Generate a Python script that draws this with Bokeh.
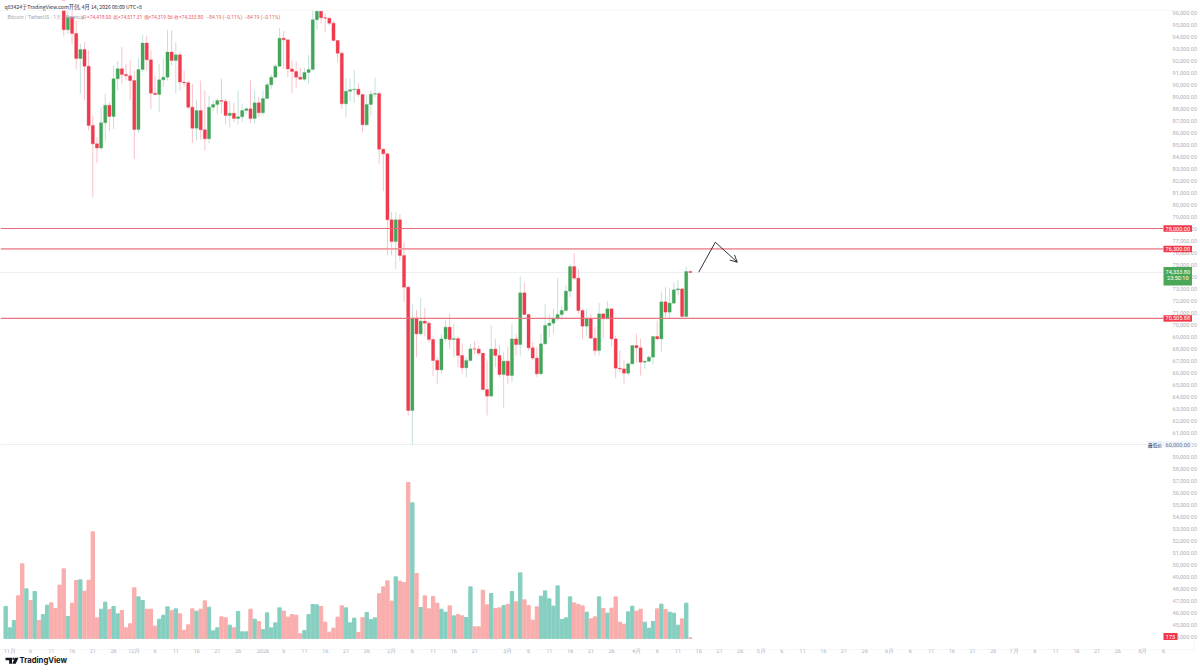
from bokeh.plotting import figure
from bokeh.models import (Range1d, LinearAxis, FixedTicker, NumeralTickFormatter, Label,
                          BoxAnnotation, PolyAnnotation, Arrow, OpenHead)
from bokeh.embed import file_html
from bokeh.resources import INLINE

# ---------- data (prices in thousands USDT; first candle = day 13 after Nov 1) ----------
first_candle_day = 13
closes_k = [94.56,95.61,94.25,92.17,92.92,91.53,86.59,85.06,84.70,86.81,88.28,87.34,90.47,91.31,90.84,90.72,90.33,86.25,91.25,93.45,
 92.06,89.28,89.17,90.39,90.61,92.70,92.00,92.47,90.20,90.15,88.11,86.36,87.83,86.22,85.47,88.11,88.33,88.67,88.60,87.42,
 87.61,87.17,87.31,87.83,87.97,87.17,88.47,87.64,88.83,89.97,90.61,91.53,93.86,93.72,91.30,91.09,90.61,90.44,91.00,91.25,
 95.39,96.10,95.56,95.53,95.11,93.67,92.61,88.39,89.44,89.56,89.61,89.17,86.64,88.33,89.19,89.25,84.61,84.22,78.72,76.92,
 78.72,75.75,73.11,62.83,70.53,69.22,70.28,70.11,68.75,67.00,66.22,68.80,69.78,68.75,68.83,67.42,66.39,67.00,67.97,67.95,
 67.61,64.58,64.03,67.95,67.42,65.83,66.94,65.75,68.80,68.33,72.64,70.83,68.06,67.20,65.89,68.39,69.92,70.11,70.47,70.83,
 71.17,72.78,74.83,73.86,71.17,69.86,70.47,68.86,67.83,70.89,70.47,71.31,68.80,66.36,66.30,65.94,66.72,68.25,68.06,66.86,
 66.94,67.28,69.00,68.80,71.89,71.03,71.78,72.89,72.97,70.67,74.418,74.334]
opens_k = [97.0] + closes_k[:-1]
highs_k = [98.0,96.6,96.5,95.33,93.4,93.53,92.84,87.42,85.6,88.11,89.22,88.53,91.58,91.95,93.11,91.72,92.0,91.17,92.2,94.14,
 94.08,92.84,90.75,91.72,92.14,94.56,94.5,93.53,92.7,91.17,90.33,90.06,88.67,90.33,89.5,89.08,88.67,88.81,90.47,88.8,
 88.67,88.5,89.5,88.4,88.1,90.33,89.5,88.94,89.5,90.2,90.84,91.72,94.72,94.45,93.72,92.0,91.95,91.4,91.4,92.44,
 96.4,97.5,97.2,95.9,95.6,95.3,93.7,92.8,90.56,90.5,91.22,90.1,89.2,89.1,89.5,90.56,89.4,84.7,84.3,79.36,
 79.36,79.2,76.86,73.2,71.67,71.2,72.22,71.39,70.3,69.0,67.3,69.2,70.33,70.89,70.06,69.0,68.39,67.3,68.39,68.6,
 68.25,67.6,67.0,69.92,68.8,68.25,67.7,68.11,70.06,69.22,74.0,73.53,70.89,68.53,68.11,69.22,71.72,70.9,71.31,73.86,
 71.58,73.25,75.0,75.95,74.64,71.3,71.31,70.89,69.78,71.78,70.9,71.94,71.3,69.08,67.83,67.0,66.9,68.3,69.22,68.8,
 67.0,67.42,69.0,70.33,72.75,73.11,73.06,73.53,73.72,73.0,74.83,74.517]
lows_k = [94.0,94.2,93.39,91.25,89.22,88.67,86.17,80.61,83.45,84.5,85.33,86.11,86.3,89.5,90.06,90.33,88.67,83.8,86.0,91.03,
 91.17,87.97,89.15,87.7,89.78,90.33,91.6,89.22,89.5,89.78,87.97,85.11,85.33,85.39,84.5,85.11,87.78,87.56,87.56,86.67,
 86.44,86.86,86.67,86.86,87.58,86.78,86.78,87.28,87.42,88.8,89.64,90.6,91.5,91.3,90.6,89.28,89.72,90.4,90.3,90.06,
 91.2,94.56,95.1,94.36,94.9,93.6,91.86,87.97,87.28,88.6,88.47,88.95,86.0,86.5,87.42,88.9,83.39,81.11,75.75,75.75,
 74.64,75.3,71.86,62.42,60.0,67.28,69.1,69.0,68.5,65.7,65.06,65.89,68.6,67.97,67.28,66.44,65.89,65.61,66.86,67.5,
 67.42,64.5,62.42,64.0,66.44,65.61,63.06,65.06,65.19,67.42,67.42,70.8,67.83,67.0,65.61,65.8,68.3,68.94,69.22,70.33,
 70.39,71.1,72.28,73.67,70.89,68.8,69.08,68.8,67.42,67.42,68.89,70.47,68.17,65.53,66.03,65.06,65.75,66.7,66.86,65.75,
 66.3,66.86,66.64,68.7,67.69,70.6,70.47,71.7,72.42,70.6,70.6,74.319]

# volume, relative units, first bar = day -1 (Oct 31)
first_volume_day = -1
volumes = [96,32,54,128,224,149,114,141,54,72,100,107,90,160,209,66,106,174,176,142,175,320,62,88,109,87,96,74,84,32,44,152,125,114,88,88,37,58,70,95,
 84,89,74,25,41,89,82,88,113,94,23,32,65,62,40,32,81,20,20,88,58,51,27,77,32,47,92,82,64,72,70,14,24,72,102,101,96,49,19,31,64,98,92,
 47,61,18,63,78,57,62,134,155,173,112,185,172,168,468,407,195,93,128,89,126,106,88,79,98,68,72,68,63,155,35,35,145,101,135,90,92,99,102,141,110,197,116,99,55,95,
 127,143,119,97,158,57,62,125,107,102,98,79,59,65,125,90,76,91,125,49,43,80,97,82,88,49,31,51,89,103,87,79,76,40,59,106,2]
early_volume_up = [1,1,1,0,0,1,0,1,0,1,1,0,0,0]

tick_days = [0,5,10,15,20,25,30,35,40,45,50,55,61,66,71,76,81,86,92,97,102,107,112,120,125,130,135,140,145,
             151,156,161,166,171,176,181,186,191,196,201,206,212,217,222,227,232,237,242,247,252,257,262,267,273,278]
tick_text = ["11月","6","11","16","21","26","12月","6","11","16","21","26","2026","6","11","16","21","26","2月","6","11","16","21",
             "3月","6","11","16","21","26","4月","6","11","16","21","26","5月","6","11","16","21","26","6月","6","11","16","21","26",
             "7月","6","11","16","21","26","8月","6"]
price_ticks = list(range(44000, 97000, 1000))

level_red = 78000
level_pink = 76300
level_low = 70505.88
last_price = 74333.80
low_price = 60000
path_days = [166.0, 170.0]
path_prices = [74358, 76858]
arrow_end_day = 175.3
arrow_end_price = 75192

RED, GREEN = "#ef3b4d", "#43a55a"
RED_WICK, GREEN_WICK = "#f8c3c8", "#c2e2da"
VRED, VGREEN = "#f9adad", "#86cfc0"
GRAY = "#aeb1ba"
FONT = "Roboto"
SIZE = "5.6px"
PANE_RIGHT_DAY = (1163 - 9.3) / 4.15
PANE_BOTTOM_PRICE = 43666.67

p = figure(width=1200, height=672, output_backend="svg", toolbar_location=None,
           x_range=Range1d(-9.3/4.15, (1200-9.3)/4.15), y_range=Range1d(41000, 97000),
           x_axis_location="below", y_axis_location=None,
           min_border=0, outline_line_color=None, background_fill_color="white", border_fill_color="white")
p.grid.visible = False
p.extra_y_ranges = {"vol": Range1d(-102, 1914)}

ax = p.xaxis[0]
ax.fixed_location = PANE_BOTTOM_PRICE
ax.ticker = FixedTicker(ticks=tick_days)
ax.major_label_overrides = {d: t for d, t in zip(tick_days, tick_text)}
ax.axis_line_color = None
ax.major_tick_line_color = None
ax.minor_tick_line_color = None
ax.major_label_text_font = FONT
ax.major_label_text_font_size = SIZE
ax.major_label_text_color = GRAY
ax.major_label_standoff = 2

yax = LinearAxis(ticker=FixedTicker(ticks=price_ticks), formatter=NumeralTickFormatter(format="0,0.00"),
                 fixed_location=PANE_RIGHT_DAY,
                 axis_line_color=None, major_tick_line_color=None, minor_tick_line_color=None,
                 major_label_text_font=FONT, major_label_text_font_size=SIZE, major_label_text_color=GRAY,
                 major_label_standoff=3)
p.add_layout(yax, "right")

# volume
vol_days = [first_volume_day + k for k in range(len(volumes))]
cand_up = [c >= o for o, c in zip(opens_k, closes_k)]
vol_up = [bool(v) for v in early_volume_up] + cand_up
vol_colors = [VGREEN if u else VRED for u in vol_up]
p.vbar(x=vol_days, top=volumes, bottom=0, width=0.8, color=vol_colors, y_range_name="vol")

# faint levels
x_left = -9.3/4.15
p.segment([x_left]*2, [last_price, low_price], [PANE_RIGHT_DAY]*2, [last_price, low_price], line_color="#eceef2", line_width=1, level="underlay")

# candles
days = [first_candle_day + k for k in range(len(closes_k))]
wick_colors = [GREEN_WICK if u else RED_WICK for u in cand_up]
body_colors = [GREEN if u else RED for u in cand_up]
p.segment(x0=days, x1=days, y0=[v*1000 for v in lows_k], y1=[v*1000 for v in highs_k], color=wick_colors, line_width=1)
p.vbar(x=days, top=[max(o, c)*1000 for o, c in zip(opens_k, closes_k)],
       bottom=[min(o, c)*1000 for o, c in zip(opens_k, closes_k)],
       width=0.76, color=body_colors, line_width=0.3)

# levels
p.segment([x_left], [level_red], [PANE_RIGHT_DAY], [level_red], line_color="#ea6a78", line_width=1)
p.segment([x_left], [level_pink], [PANE_RIGHT_DAY], [level_pink], line_color="#f09aa3", line_width=1.6)
p.segment([x_left], [level_low], [PANE_RIGHT_DAY], [level_low], line_color="#ea7480", line_width=1.2)

# drawn path
p.line(path_days, path_prices, line_color="#1b1d24", line_width=0.9)
p.add_layout(Arrow(end=OpenHead(size=7, line_width=0.9, line_color="#1b1d24"), line_color="#1b1d24", line_width=0.9,
                   x_start=path_days[-1], y_start=path_prices[-1], x_end=arrow_end_day, y_end=arrow_end_price))

# white mask above the chart pane (y pixel < 10)
p.add_layout(BoxAnnotation(left=0, right=1200, top=672, bottom=662, left_units="screen", right_units="screen",
                           top_units="screen", bottom_units="screen", fill_color="white", fill_alpha=1, line_color=None))

def tag(left, right, top, bottom, color):
    p.add_layout(BoxAnnotation(left=left, right=right, top=top, bottom=bottom,
                               left_units="screen", right_units="screen",
                               fill_color=color, fill_alpha=1, line_color=None))

def text_at(x, y, text, color, align="left", size=SIZE, style="normal", y_units="data", font=FONT):
    p.add_layout(Label(x=x, y=y, x_units="screen", y_units=y_units, text=text, text_color=color,
                       text_font=font, text_font_size=size, text_font_style=style,
                       text_align=align, text_baseline="middle"))

# price tags
for price, label in [(level_red, "78,000.00"), (level_pink, "76,300.00"), (level_low, "70,505.88")]:
    tag(1163, 1191.5, price + 270, price - 270, "#f0394b")
    text_at(1177.3, price, label, "#ffffff", "center")
tag(1163, 1191.5, 74790, 73250, "#4aa758")
text_at(1177.3, last_price + 30, "74,333.80", "#ffffff", "center")
text_at(1177.3, last_price - 430, "23:50:10", "#ffffff", "center")
tag(1147, 1162, low_price + 290, low_price - 290, "#e9f0fa")
text_at(1154.5, low_price, "最低价", "#2a3a5e", "center", font="Noto Sans CJK SC", size="4.6px")
tag(1163, 1191.5, low_price + 290, low_price - 290, "#f0f4fb")
text_at(1177.3, low_price, "60,000.00", "#6f7686", "center")
tag(1163, 1177, 44290, 43710, "#f0394b")
text_at(1170, 44000, "173", "#ffffff", "center")

# header texts
text_at(4, 666, "q83424于TradingView.com开创, 4月 14, 2026 08:09 UTC+8", "#2a2e39", y_units="screen", font="Noto Sans CJK SC", size="5.2px")
text_at(7, 656, "Bitcoin / TetherUS · 1天 · Binance", "#a6a9b2", y_units="screen", font="Roboto", size="5.2px")
for x, s in [(81.5, "开=74,418.00"), (112.5, "高=74,517.31"), (143, "低=74,319.56"), (173.5, "收=74,333.80"),
             (206, "−84.19 (−0.11%)"), (244, "−84.19 (−0.11%)")]:
    text_at(x, 656, s, "#ec5a68", y_units="screen", font="Roboto", size="4.9px")

# TradingView logo
text_at(19, 12, "TradingView", "#131722", y_units="screen", font="Inter", size="7.7px", style="bold")
for xs, ys in [([5, 11.5, 11.5, 8.6, 8.6, 5], [14.8, 14.8, 8.8, 8.8, 12.2, 12.2]),
               ([12, 14, 14, 12], [14.8, 14.8, 12.8, 12.8]),
               ([14.5, 18, 15.2, 11.7], [14.8, 14.8, 8.8, 8.8])]:
    p.add_layout(PolyAnnotation(xs=xs, ys=ys, xs_units="screen", ys_units="screen",
                                fill_color="#131722", fill_alpha=1, line_color=None))

# hairline borders
for xs, ys in [([0, 1194, 1194, 0], [662.5, 662.5, 662, 662]),
               ([0, 1194, 1194, 0], [23.5, 23.5, 23, 23]),
               ([1194, 1194.5, 1194.5, 1194], [662.5, 662.5, 23, 23])]:
    p.add_layout(PolyAnnotation(xs=xs, ys=ys, xs_units="screen", ys_units="screen",
                                fill_color="#eef0f3", fill_alpha=1, line_color=None))

open("out.html", "w").write(file_html(p, INLINE))
